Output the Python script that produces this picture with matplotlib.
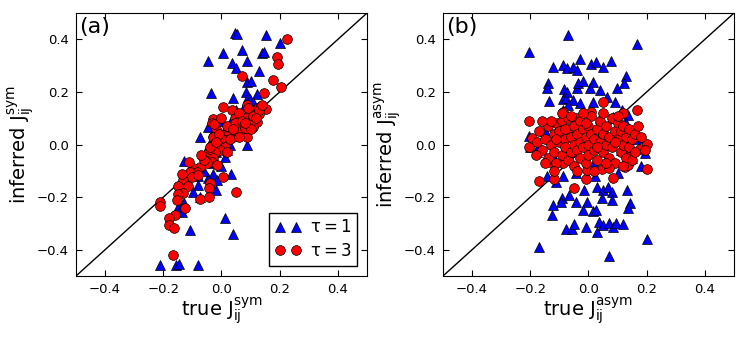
import matplotlib
matplotlib.use('Agg')
import matplotlib.pyplot as plt
import numpy as np

# panel (a): symmetric couplings, tau=1 (triangles) and tau=3 (circles)
a1_true = [0.046, 0.053, 0.153, 0.201, 0.005, 0.070, -0.046, 0.036, 0.088, 0.050,
           0.129, 0.139, 0.146, 0.088, 0.101, -0.036, 0.084, 0.040, 0.091, 0.098,
           0.122, 0.064, -0.046, -0.074, -0.029, 0.088, -0.129, 0.012, -0.029, 0.033,
           -0.015, -0.081, -0.098, -0.019, -0.040, -0.074, -0.149, -0.132, -0.136, 0.012,
           -0.108, 0.040, -0.211, -0.156, -0.146, -0.081, -0.046, -0.129, -0.043,
           -0.05, 0.0, 0.03, 0.06, 0.08, 0.10, -0.02, 0.01, 0.04, -0.06,
           -0.03, 0.02, 0.07, 0.05, 0.11, -0.08, 0.0, 0.03, -0.01, 0.09]
a1_inf = [0.424, 0.420, 0.416, 0.386, 0.348, 0.359, 0.317, 0.310, 0.317, 0.291,
          0.279, 0.348, 0.352, 0.238, 0.241, 0.196, 0.200, 0.177, 0.181, 0.173,
          0.192, 0.116, 0.067, 0.029, 0.048, -0.002, -0.063, -0.048, -0.112, -0.112,
          -0.135, -0.154, -0.181, -0.173, -0.143, -0.200, -0.237, -0.226, -0.256, -0.279,
          -0.325, -0.340, -0.458, -0.458, -0.454, -0.458, -0.127, -0.222, -0.002,
          -0.05, 0.02, 0.08, 0.10, 0.15, 0.12, -0.03, 0.05, 0.04, -0.10,
          -0.07, -0.02, 0.06, 0.13, 0.16, -0.12, -0.08, 0.0, 0.09, 0.09]

a3_true = [0.225, 0.191, 0.194, 0.070, 0.177, 0.204, 0.146, 0.005, 0.036, 0.088,
           0.153, 0.125, 0.136, 0.098, 0.129, -0.029, -0.033, -0.019, -0.026, 0.046,
           0.064, 0.074, 0.088, 0.105, 0.122, 0.108, 0.029, 0.053, 0.070, 0.012,
           0.040, 0.088, -0.029, 0.033, 0.015, 0.002, -0.022, 0.005, 0.098, 0.046,
           0.081, 0.012, -0.012, 0.012, -0.005, -0.022, -0.046, -0.057, -0.029, -0.033,
           -0.015, -0.050, -0.074, -0.098, -0.112, -0.084, -0.108, -0.101, -0.081, -0.132,
           -0.136, -0.115, -0.149, 0.005, -0.040, -0.043, 0.050, -0.043, -0.074, -0.132,
           -0.149, -0.153, -0.125, -0.211, -0.211, -0.160, -0.180, -0.180, -0.163, -0.167,
           0.06, 0.09, 0.11, 0.13, 0.02, 0.0, 0.04, 0.07, 0.10, 0.14,
           -0.01, 0.03, 0.06, 0.08, 0.12, -0.04, -0.06, -0.02, 0.02, -0.07]
a3_inf = [0.401, 0.333, 0.306, 0.260, 0.245, 0.219, 0.196, 0.143, 0.131, 0.150,
          0.135, 0.139, 0.146, 0.120, 0.116, 0.097, 0.082, 0.059, 0.078, 0.101,
          0.105, 0.086, 0.105, 0.093, 0.086, 0.067, 0.055, 0.059, 0.055, 0.036,
          0.029, 0.029, 0.029, 0.051, 0.032, 0.006, 0.006, -0.010, 0.082, 0.082,
          0.063, 0.017, -0.002, -0.010, -0.021, -0.029, -0.032, -0.048, -0.051, -0.067,
          -0.078, -0.070, -0.086, -0.089, -0.067, -0.105, -0.105, -0.124, -0.116, -0.135,
          -0.112, -0.158, -0.158, -0.124, -0.146, -0.165, -0.181, -0.200, -0.207, -0.184,
          -0.188, -0.211, -0.241, -0.219, -0.234, -0.268, -0.279, -0.306, -0.317, -0.420,
          0.12, 0.14, 0.11, 0.13, 0.07, 0.10, 0.06, 0.09, 0.06, 0.15,
          0.04, 0.02, 0.03, 0.08, 0.10, -0.01, -0.06, 0.01, -0.03, -0.04]

# panel (b): antisymmetric couplings
b1_true = [-0.204, -0.070, 0.167, -0.122, -0.088, -0.074, -0.053, -0.040, -0.029, 0.009,
           0.026, 0.050, 0.077, 0.129, -0.139, -0.143, -0.084, -0.074, -0.040, -0.036,
           -0.019, 0.015, 0.005, 0.040, 0.098, 0.122, -0.136, -0.088, -0.077, -0.053,
           -0.029, 0.015, 0.064, 0.091, 0.115, 0.136, -0.070, -0.088, 0.040, 0.084,
           0.177, -0.204, -0.177, -0.201, -0.143, -0.112, -0.088, -0.043, 0.022, 0.101,
           0.194, -0.122, -0.091, -0.094, -0.067, -0.043, -0.015, -0.005, 0.029, 0.050,
           0.067, 0.081, 0.132, 0.046, 0.081, 0.143, -0.019, 0.015, 0.026, 0.136,
           -0.125, -0.077, -0.057, -0.050, -0.009, 0.029, 0.036, 0.050, 0.070, 0.084,
           0.094, 0.119, 0.201, -0.170, 0.070,
           -0.15, -0.10, -0.05, 0.0, 0.05, 0.10, 0.13, -0.12, -0.06, 0.02,
           0.08, 0.15, 0.16, -0.17, 0.0, 0.04, -0.08, 0.11, 0.18, 0.06]
b1_inf = [0.352, 0.416, 0.382, 0.295, 0.302, 0.291, 0.295, 0.283, 0.325, 0.306,
          0.314, 0.295, 0.317, 0.260, 0.234, 0.215, 0.211, 0.200, 0.215, 0.234,
          0.241, 0.238, 0.215, 0.207, 0.215, 0.234, 0.165, 0.173, 0.177, 0.169,
          0.158, 0.162, 0.181, 0.162, 0.131, 0.112, 0.150, 0.131, 0.101, 0.105,
          0.025, 0.032, -0.029, -0.010, -0.120, -0.143, -0.120, -0.108, -0.120, -0.108,
          -0.032, -0.230, -0.203, -0.218, -0.192, -0.218, -0.173, -0.218, -0.162, -0.173,
          -0.162, -0.181, -0.173, -0.203, -0.211, -0.222, -0.249, -0.253, -0.249, -0.241,
          -0.268, -0.321, -0.321, -0.302, -0.313, -0.333, -0.295, -0.306, -0.298, -0.313,
          -0.298, -0.302, -0.359, -0.390, -0.424,
          0.05, 0.07, 0.06, 0.08, 0.07, 0.06, 0.08, -0.05, -0.06, -0.07,
          -0.06, -0.05, 0.02, 0.0, 0.0, 0.02, -0.02, -0.02, -0.08, 0.04]

b3_true = [-0.204, 0.050, 0.167, -0.088, 0.009, -0.043, 0.119, -0.170, -0.119, -0.050,
           -0.009, 0.084, 0.201, -0.204, -0.194, -0.177, 0.177, 0.201, 0.194, -0.132,
           -0.088, -0.005, 0.046, 0.125, 0.143, 0.136,
           -0.17, -0.16, -0.15, -0.14, -0.14, -0.13, -0.12, -0.12, -0.11, -0.11,
           -0.10, -0.10, -0.09, -0.09, -0.08, -0.08, -0.07, -0.07, -0.07, -0.06,
           -0.06, -0.05, -0.05, -0.05, -0.04, -0.04, -0.03, -0.03, -0.03, -0.02,
           -0.02, -0.01, -0.01, 0.00, 0.00, 0.00, 0.01, 0.01, 0.02, 0.02,
           0.03, 0.03, 0.04, 0.04, 0.05, 0.05, 0.06, 0.06, 0.07, 0.07,
           0.08, 0.08, 0.09, 0.09, 0.10, 0.10, 0.11, 0.11, 0.12, 0.12,
           0.13, 0.13, 0.14, 0.14, 0.15, 0.15, 0.16, 0.16, -0.15, -0.13,
           -0.09, -0.06, -0.02, 0.05, 0.10, -0.12, -0.04, 0.02, 0.07, 0.12,
           -0.16, -0.18, 0.17, 0.18, -0.08, 0.03, -0.01, 0.06, -0.11, 0.09]
b3_inf = [0.089, 0.162, 0.131, 0.124, 0.124, 0.101, 0.120, -0.139, -0.131, -0.165,
          -0.131, -0.127, -0.093, -0.010, 0.025, 0.010, -0.017, 0.002, -0.021, -0.067,
          -0.070, -0.097, -0.093, -0.086, -0.040, -0.078,
          0.05, -0.02, 0.02, -0.05, 0.07, 0.00, 0.04, -0.03, 0.08, -0.07,
          0.01, 0.05, -0.04, 0.09, 0.02, -0.01, 0.06, -0.06, 0.10, 0.03,
          -0.03, 0.00, 0.07, -0.08, 0.04, -0.02, 0.09, 0.01, -0.05, 0.06,
          -0.01, 0.03, -0.07, 0.00, 0.07, -0.04, 0.04, 0.11, -0.02, 0.02,
          0.06, -0.06, 0.01, 0.09, -0.03, 0.04, 0.00, 0.07, -0.05, 0.03,
          0.10, -0.01, 0.05, -0.07, 0.02, 0.08, -0.03, 0.05, 0.00, 0.07,
          -0.05, 0.03, 0.06, -0.01, 0.02, -0.06, 0.04, -0.03, -0.07, 0.09,
          0.12, 0.11, 0.12, 0.12, 0.11, -0.10, -0.10, -0.10, -0.09, -0.08,
          0.09, -0.04, 0.07, 0.03, 0.06, -0.01, 0.08, -0.07, 0.02, 0.01]

ticks = [-0.4, -0.2, 0.0, 0.2, 0.4]

plt.rcParams['font.family'] = 'DejaVu Sans'
plt.rcParams['xtick.direction'] = 'in'
plt.rcParams['ytick.direction'] = 'in'
plt.rcParams['xtick.top'] = True
plt.rcParams['ytick.right'] = True

fig = plt.figure(figsize=(7.47, 3.38), dpi=100)

panels = [
    ([0.1017, 0.1834, 0.3896, 0.778], a1_true, a1_inf, a3_true, a3_inf, '(a)', 'sym'),
    ([0.593, 0.1834, 0.3896, 0.778], b1_true, b1_inf, b3_true, b3_inf, '(b)', 'asym'),
]

for rect, x1, y1, x3, y3, tag, kind in panels:
    ax = fig.add_axes(rect)
    ax.plot([-0.5, 0.5], [-0.5, 0.5], color='k', lw=1)
    ax.plot(x1, y1, '^', color='b', mec='k', mew=0.5, ms=7, label=r'$\mathregular{\tau = 1}$')
    ax.plot(x3, y3, 'o', color='r', mec='k', mew=0.5, ms=7, label=r'$\mathregular{\tau = 3}$')
    ax.set_xlim(-0.5, 0.5)
    ax.set_ylim(-0.5, 0.5)
    ax.set_xticks(ticks)
    ax.set_yticks(ticks)
    ax.tick_params(labelsize=9.5, length=4, pad=5)
    ax.set_xlabel(r'true $\mathregular{J_{ij}^{%s}}$' % kind, fontsize=14, labelpad=0)
    ax.set_ylabel(r'inferred $\mathregular{J_{ij}^{%s}}$' % kind, fontsize=14, labelpad=0)
    ax.text(0.01, 0.985, tag, transform=ax.transAxes, fontsize=16, va='top', ha='left')
    if tag == '(a)':
        ax.legend(loc='lower right', numpoints=2, fontsize=12, fancybox=False,
                  edgecolor='k', framealpha=1, handlelength=1.6, handletextpad=0.5,
                  borderpad=0.35, labelspacing=0.35, borderaxespad=0.6)

fig.savefig('out.png', dpi=100)
